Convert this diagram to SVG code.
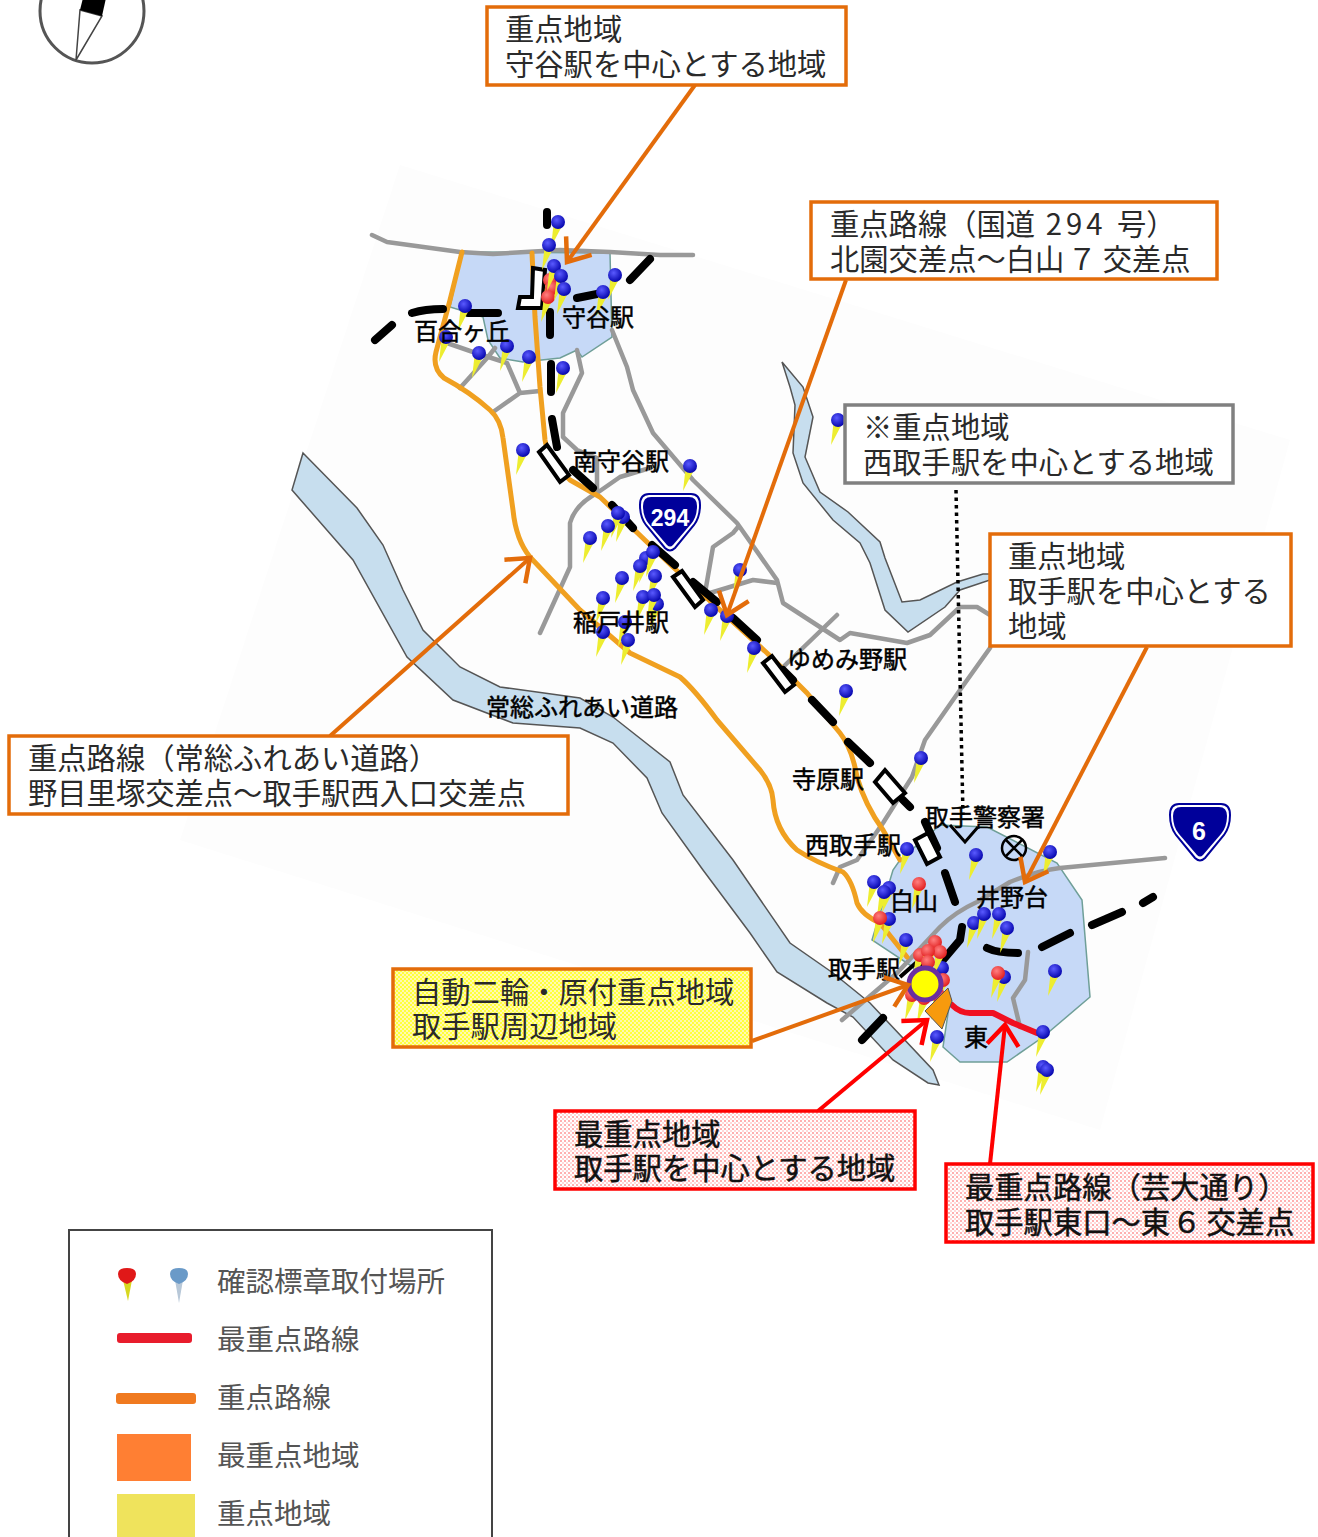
<svg xmlns="http://www.w3.org/2000/svg" width="1318" height="1537" viewBox="0 0 1318 1537">
<style>
text{font-family:"Noto Sans CJK JP","Noto Sans",sans-serif;fill:#222}
.c{font-size:29.3px;fill:#2a2a2a}
.cb{font-size:29.3px;fill:#111;stroke:#111;stroke-width:.5}
.m{font-size:24px;fill:#000;stroke:#000;stroke-width:.5}
.l{font-size:28.5px;fill:#555}
.box{fill:#fff;stroke:#e36c0a;stroke-width:3.5}
.gb{fill:#fff;stroke:#808080;stroke-width:3.5}
.rb{fill:url(#pk);stroke:#f00;stroke-width:3.5}
.yb{fill:url(#yl);stroke:#e36c0a;stroke-width:3.5}
.area{fill:#c6d9f7;stroke:#6f9f98;stroke-width:1.5}
.river{fill:#c7deee;stroke:#555;stroke-width:1.5}
.gray{fill:none;stroke:#999;stroke-width:4.5;stroke-linejoin:round;stroke-linecap:round}
.or{fill:none;stroke:#f0a020;stroke-width:5;stroke-linejoin:round;stroke-linecap:round}
.rail{fill:none;stroke:#000;stroke-width:8;stroke-linecap:round;stroke-linejoin:round}
.st{fill:#fff;stroke:#000;stroke-width:4;stroke-linejoin:miter}
.ao{fill:none;stroke:#e36c0a;stroke-width:4;marker-end:url(#ma)}
.ar{fill:none;stroke:#f00;stroke-width:4;marker-end:url(#mr)}
</style>
<defs>
<marker id="ma" markerUnits="userSpaceOnUse" markerWidth="30" markerHeight="36" viewBox="-2 -2 24 32" refX="18" refY="14" orient="auto"><path d="M0 0L18 14L0 28" fill="none" stroke="#e36c0a" stroke-width="4"/></marker>
<marker id="mr" markerUnits="userSpaceOnUse" markerWidth="30" markerHeight="36" viewBox="-2 -2 24 32" refX="18" refY="14" orient="auto"><path d="M0 0L18 14L0 28" fill="none" stroke="#f00" stroke-width="4"/></marker>
<pattern id="yl" width="4" height="4" patternUnits="userSpaceOnUse"><rect width="4" height="4" fill="#ffff3c"/><rect width="2" height="2" fill="#fff9b0"/><rect x="2" y="2" width="2" height="2" fill="#fff9b0"/></pattern>
<pattern id="pk" width="4" height="4" patternUnits="userSpaceOnUse"><rect width="4" height="4" fill="#fff"/><rect width="2" height="2" fill="#ffb0b0"/><rect x="2" y="2" width="2" height="2" fill="#ffd8d8"/></pattern>
<radialGradient id="gb" cx=".4" cy=".35" r=".7"><stop offset="0" stop-color="#5a5aff"/><stop offset="1" stop-color="#0000a8"/></radialGradient>
<radialGradient id="gr" cx=".4" cy=".35" r=".7"><stop offset="0" stop-color="#ff8080"/><stop offset="1" stop-color="#e01818"/></radialGradient>
<g id="pb"><path d="M-4.5 3L4.5 3L-7 25Z" fill="#eded30"/><circle r="7" fill="url(#gb)"/></g>
<g id="pr"><path d="M-4.5 3L4.5 3L-7 25Z" fill="#eded30"/><circle r="7" fill="url(#gr)"/></g>
<g id="shield"><path d="M-21 -29H21Q30 -29 30 -18Q30 -6 24 2L5 25Q0 30 -5 25L-24 2Q-30 -6 -30 -18Q-30 -29 -21 -29Z" fill="#fff" stroke="#00009a" stroke-width="2"/><path d="M-19 -26H19Q27 -26 27 -17Q27 -6 21 1L3 22Q0 25 -3 22L-21 1Q-27 -6 -27 -17Q-27 -26 -19 -26Z" fill="#00009a"/></g>
</defs>
<rect width="1318" height="1537" fill="#fff"/>
<path d="M400 165L1290 440L1100 1130L180 840Z" fill="#fdfdfd"/>
<g id="compass">
<circle cx="92" cy="11" r="52" fill="none" stroke="#555" stroke-width="3"/>
<path d="M76 60L80 10L102 16Z" fill="#fff" stroke="#444" stroke-width="1.5"/>
<path d="M83 -2L80 10L102 16L106 -2Z" fill="#000"/>
</g>
<g id="map">
<path class="river" d="M303 453L357 508L383 545L403 590L423 630L460 667L500 687L580 698L613 717L670 762L683 795L733 860L790 943L833 973L870 1003L933 1070L939 1085L928 1083L893 1060L853 1017L827 1003L777 972L750 933L703 870L662 813L647 778L613 743L580 728L513 723L453 700L407 657L353 560L292 490Z"/>
<path class="river" d="M782 362L803 387L813 417L805 457L820 492L848 512L880 542L885 558L902 602L920 600L957 582L983 574L990 574L990 580L960 590L945 607L908 632L885 610L870 563L860 543L833 520L803 483L793 453L795 405L790 387Z"/>
<path class="area" d="M462 252L610 253L612 337L582 357L577 350L560 358L523 362L500 358L488 340L483 317L450 307Z"/>
<path class="area" d="M940 825L987 827L1057 863L1082 900L1090 997L1043 1037L1007 1062L960 1062L943 1047L950 1000L925 1000L913 967L872 940L893 870L900 860Z"/>
<g class="gray">
<path d="M372 235L387 242L460 252L493 254L560 250L610 252L660 255L693 255"/>
<path d="M612 330L627 367L633 390L653 433L693 480L737 523L777 580L783 603L840 640L850 633L907 643L930 635L960 607L977 607L990 615"/>
<path d="M990 648L960 690L925 740L912 777L883 823L857 860L840 867L833 883"/>
<path d="M577 350L582 373L563 413L563 437L577 450L597 458L597 493"/>
<path d="M493 412L520 393L540 391M520 393L507 363L473 352L447 343M460 388L488 357L495 348"/>
<path d="M540 633L570 567L570 523Q575 505 597 493L620 477L650 468"/>
<path d="M705 593L713 547L733 533L738 527M710 593L753 580L777 583M780 670L837 615"/>
<path d="M842 1020L897 973L940 927Q955 912 977 902L1010 882Q1040 870 1060 868L1165 858"/>
<path d="M1028 952L1025 980L1013 998L1020 1027"/>
</g>
<g class="or">
<path d="M462 252L450 300L436 352Q432 368 444 378Q470 392 490 410Q501 420 503 438L513 510Q516 540 530 557L580 610L630 653L680 677Q695 690 717 720L760 770Q772 785 773 800Q775 830 797 850Q815 862 843 872Q852 880 857 903Q862 915 880 923L907 957"/>
<path d="M532 253L535 317L540 387L545 440Q548 460 570 480L600 497L673 567L767 653L807 693L840 733Q852 748 857 777Q865 805 883 830L900 860"/>
</g>
<path d="M952 1005Q960 1013 970 1013L993 1013L1013 1023L1037 1033" fill="none" stroke="#f01020" stroke-width="6" stroke-linecap="round" stroke-linejoin="round"/>
<g id="railway" class="rail">
<path d="M547 212V225M550 312V335M551 364V392M552 419L557 447M573 470L593 488M612 505L633 528M652 545L675 565M693 582L717 602M733 618L757 640M783 670L793 680M812 700L833 722M848 742L870 763M903 800L910 807M925 822L937 848M945 873L955 902M962 927L960 940L943 960M862 1040L883 1018"/>
<path d="M412 313C425 309 435 309 443 309M468 313H498M375 340L392 325M577 298L602 293M630 280L650 259M987 948C995 952 1005 953 1018 953M1042 947L1070 933M1092 925L1122 912M1143 903L1153 897"/>
</g>
<g id="stations">
<path class="st" d="M533 268L545 270L542 308L518 308L520 297L532 297Z"/>
<path class="st" d="M539 452L547 445L569 475L560 482Z"/>
<path class="st" d="M673 577L682 571L703 600L695 607Z"/>
<path class="st" d="M763 663L772 656L794 685L785 692Z"/>
<path class="st" d="M875 782L885 770L905 793L893 803Z"/>
<path class="st" d="M915 840L928 833L940 857L927 864Z"/>
<path d="M900 977L917 962L925 970" fill="none" stroke="#000" stroke-width="4"/>
</g>
<g id="pins">
<use href="#pr" x="550" y="280"/><use href="#pr" x="552" y="288"/><use href="#pr" x="548" y="297"/>
<use href="#pb" x="558" y="222"/><use href="#pb" x="549" y="245"/><use href="#pb" x="554" y="266"/><use href="#pb" x="561" y="276"/><use href="#pb" x="564" y="289"/><use href="#pb" x="615" y="275"/><use href="#pb" x="603" y="292"/><use href="#pb" x="465" y="306"/><use href="#pb" x="446" y="337"/><use href="#pb" x="479" y="353"/><use href="#pb" x="507" y="346"/><use href="#pb" x="529" y="357"/><use href="#pb" x="563" y="368"/><use href="#pb" x="523" y="450"/><use href="#pb" x="690" y="466"/>
<use href="#pb" x="623" y="517"/><use href="#pb" x="618" y="513"/><use href="#pb" x="608" y="526"/><use href="#pb" x="590" y="538"/><use href="#pb" x="646" y="558"/><use href="#pb" x="653" y="552"/><use href="#pb" x="640" y="566"/><use href="#pb" x="655" y="576"/><use href="#pb" x="622" y="578"/><use href="#pb" x="603" y="598"/><use href="#pb" x="643" y="597"/><use href="#pb" x="657" y="604"/><use href="#pb" x="654" y="595"/><use href="#pb" x="625" y="622"/><use href="#pb" x="603" y="632"/><use href="#pb" x="628" y="640"/><use href="#pb" x="711" y="610"/><use href="#pb" x="727" y="616"/><use href="#pb" x="740" y="570"/><use href="#pb" x="754" y="648"/><use href="#pb" x="846" y="691"/><use href="#pb" x="838" y="420"/><use href="#pb" x="921" y="758"/>
<use href="#pb" x="907" y="849"/><use href="#pb" x="976" y="855"/><use href="#pb" x="1050" y="852"/><use href="#pb" x="874" y="882"/><use href="#pb" x="889" y="888"/><use href="#pb" x="884" y="892"/><use href="#pb" x="889" y="919"/><use href="#pb" x="906" y="940"/><use href="#pb" x="974" y="923"/><use href="#pb" x="984" y="914"/><use href="#pb" x="999" y="914"/><use href="#pb" x="1007" y="928"/><use href="#pb" x="1055" y="971"/><use href="#pb" x="1004" y="977"/><use href="#pb" x="942" y="968"/><use href="#pb" x="1043" y="1032"/><use href="#pb" x="937" y="1037"/><use href="#pb" x="1043" y="1067"/><use href="#pb" x="1047" y="1070"/>
<use href="#pr" x="919" y="884"/><use href="#pr" x="880" y="918"/><use href="#pr" x="998" y="973"/><use href="#pr" x="935" y="942"/><use href="#pr" x="940" y="952"/><use href="#pr" x="920" y="955"/><use href="#pr" x="928" y="951"/><use href="#pr" x="928" y="962"/><use href="#pr" x="943" y="980"/><use href="#pr" x="912" y="995"/><use href="#pr" x="924" y="998"/><use href="#pr" x="938" y="995"/>
</g>
<path id="top-area" d="M925 1011L948 988L952 1001L942 1029Z" fill="#f79a0d" stroke="#555" stroke-width="1"/>
<circle id="bike-zone" cx="925" cy="984" r="16" fill="#ff0" stroke="#6a2fa0" stroke-width="5"/>
<g id="police"><circle cx="1014" cy="848" r="12" fill="none" stroke="#000" stroke-width="2.5"/><path d="M1006 840L1022 856M1022 840L1006 856" stroke="#000" stroke-width="2.5"/></g>
<g id="route-294"><use href="#shield" x="670" y="523"/><text x="670" y="526" text-anchor="middle" style="font-family:'Liberation Sans',sans-serif;font-weight:700;font-size:23px;fill:#fff">294</text></g>
<g id="route-6"><use href="#shield" x="1200" y="833"/><text x="1199" y="840" text-anchor="middle" style="font-family:'Liberation Sans',sans-serif;font-weight:700;font-size:25px;fill:#fff">6</text></g>
<g id="map-labels">
<text class="m" x="414" y="340">百合ヶ丘</text>
<text class="m" x="562" y="326">守谷駅</text>
<text class="m" x="573" y="470">南守谷駅</text>
<text class="m" x="573" y="631">稲戸井駅</text>
<text class="m" x="787" y="668">ゆめみ野駅</text>
<text class="m" x="486" y="716">常総ふれあい道路</text>
<text class="m" x="792" y="788">寺原駅</text>
<text class="m" x="925" y="826">取手警察署</text>
<text class="m" x="805" y="854">西取手駅</text>
<text class="m" x="890" y="910">白山</text>
<text class="m" x="976" y="906">井野台</text>
<text class="m" x="828" y="978">取手駅</text>
<text class="m" x="964" y="1046">東</text>
</g>
</g>
<g id="connectors">
<path class="ao" d="M695 85L567 262"/>
<path class="ao" d="M846 280L727 615"/>
<path class="ao" d="M330 736L530 558"/>
<path class="ao" d="M1147 647L1025 882"/>
<path class="ao" d="M752 1041L908 985"/>
<path class="ar" d="M818 1111L927 1020"/>
<path class="ar" d="M990 1164L1005 1025"/>
<path d="M956 490L963 815" fill="none" stroke="#000" stroke-width="3.5" stroke-dasharray="3.5 4"/>
<path d="M950 825L965 842L978 827" fill="none" stroke="#000" stroke-width="3"/>
</g>
<g id="callout-moriya"><rect class="box" x="487" y="7" width="359" height="78"/><text class="c" x="505" y="40">重点地域</text><text class="c" x="505" y="75">守谷駅を中心とする地域</text></g>
<g id="callout-294"><rect class="box" x="811" y="202" width="406" height="77"/><text class="c" x="830" y="235">重点路線（国道<tspan letter-spacing="4"> 294 </tspan>号）</text><text class="c" x="830" y="270">北園交差点～白山<tspan dx="3">７</tspan><tspan dx="6">交差点</tspan></text></g>
<g id="callout-nishitoride"><rect class="gb" x="845" y="405" width="388" height="78"/><text class="c" x="863" y="438">※重点地域</text><text class="c" x="863" y="473">西取手駅を中心とする地域</text></g>
<g id="callout-toride"><rect class="box" x="990" y="534" width="301" height="112"/><text class="c" x="1008" y="567">重点地域</text><text class="c" x="1008" y="602">取手駅を中心とする</text><text class="c" x="1008" y="637">地域</text></g>
<g id="callout-josou"><rect class="box" x="9" y="736" width="559" height="78"/><text class="c" x="28" y="769">重点路線（常総ふれあい道路）</text><text class="c" x="28" y="804">野目里塚交差点～取手駅西入口交差点</text></g>
<g id="callout-bike"><rect class="yb" x="393" y="969" width="358" height="78"/><text class="c" x="412" y="1003">自動二輪・原付重点地域</text><text class="c" x="412" y="1037">取手駅周辺地域</text></g>
<g id="callout-top-area"><rect class="rb" x="555" y="1111" width="360" height="78"/><text class="cb" x="574" y="1145">最重点地域</text><text class="cb" x="574" y="1179">取手駅を中心とする地域</text></g>
<g id="callout-top-route"><rect class="rb" x="946" y="1164" width="367" height="78"/><text class="cb" x="965" y="1198">最重点路線（芸大通り）</text><text class="cb" x="965" y="1233">取手駅東口～東<tspan dx="2">６</tspan><tspan dx="5">交差点</tspan></text></g>
<g id="legend">
<rect x="69" y="1230" width="423" height="320" fill="#fff" stroke="#444" stroke-width="2"/>
<path d="M123 1280L132 1280L128 1301Z" fill="#d8d820"/><path d="M118 1274Q118 1268 127 1268Q136 1268 136 1274Q136 1281 127 1284Q118 1281 118 1274Z" fill="#e01818"/>
<path d="M175 1280L183 1280L179 1303Z" fill="#b8c8d8"/><path d="M170 1274Q170 1268 179 1268Q188 1268 188 1274Q188 1281 179 1284Q170 1281 170 1274Z" fill="#6a9ac8"/>
<rect x="117" y="1333" width="75" height="10" rx="3" fill="#e81c2c"/>
<rect x="116" y="1393" width="80" height="11" rx="3" fill="#f07a20"/>
<rect x="117" y="1434" width="74" height="47" fill="#ff7f33"/>
<rect x="117" y="1494" width="78" height="43" fill="#efe35c"/>
<text class="l" x="217" y="1292">確認標章取付場所</text>
<text class="l" x="217" y="1350">最重点路線</text>
<text class="l" x="217" y="1408">重点路線</text>
<text class="l" x="217" y="1466">最重点地域</text>
<text class="l" x="217" y="1524">重点地域</text>
</g>
</svg>
